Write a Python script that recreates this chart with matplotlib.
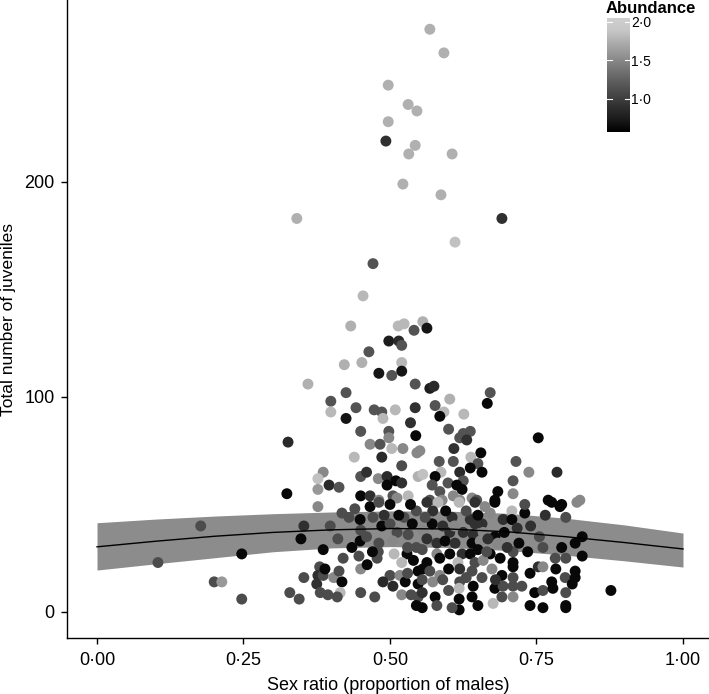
import matplotlib
matplotlib.use("Agg")
import matplotlib.pyplot as plt
import numpy as np
from matplotlib.colors import LinearSegmentedColormap, Normalize

plt.rcParams['font.family'] = ['Liberation Sans', 'DejaVu Sans']

# ---- data -------------------------------------------------------------
sex_ratio = [
    0.568, 0.592, 0.497, 0.531, 0.546, 0.497, 0.493, 0.543, 0.532, 0.606, 0.522, 0.587, 0.691, 0.611, 0.341,
    0.471, 0.454, 0.433, 0.514, 0.524, 0.556, 0.541, 0.563, 0.498, 0.515, 0.520, 0.464, 0.422, 0.452, 0.520,
    0.481, 0.503, 0.520, 0.360, 0.543, 0.568, 0.575, 0.602, 0.671, 0.666, 0.399, 0.425, 0.399, 0.442, 0.425,
    0.473, 0.486, 0.488, 0.509, 0.543, 0.577, 0.592, 0.585, 0.626,
    0.450, 0.498, 0.498, 0.544, 0.326, 0.466, 0.483, 0.503, 0.522, 0.546, 0.439, 0.486, 0.386, 0.377, 0.377,
    0.396, 0.413, 0.450, 0.480, 0.495, 0.495, 0.510, 0.520, 0.548, 0.324, 0.450, 0.466, 0.481, 0.505, 0.512,
    0.531, 0.377,
    0.625, 0.637, 0.619, 0.631, 0.753, 0.609, 0.551, 0.655, 0.638, 0.584, 0.608, 0.650, 0.637, 0.619, 0.657,
    0.715, 0.737, 0.556, 0.587, 0.577, 0.625, 0.599, 0.572, 0.614, 0.710, 0.585, 0.608, 0.623, 0.684, 0.640,
    0.648, 0.679, 0.568, 0.589, 0.619, 0.770,
    0.785, 0.776, 0.793, 0.824, 0.819,
    0.177, 0.353, 0.348, 0.104, 0.247, 0.200, 0.213, 0.247, 0.329, 0.345, 0.353, 0.380, 0.377, 0.375,
    0.398, 0.411, 0.386, 0.418, 0.440, 0.449, 0.450, 0.449, 0.447, 0.450, 0.461, 0.466, 0.471, 0.481, 0.486,
    0.500, 0.500, 0.512, 0.481, 0.480, 0.478, 0.507, 0.529, 0.531, 0.520, 0.500, 0.517, 0.526, 0.488, 0.505,
    0.520, 0.536, 0.548, 0.548, 0.548, 0.474, 0.450, 0.420, 0.386, 0.389, 0.404, 0.413, 0.418, 0.415, 0.394,
    0.410, 0.381,
    0.524, 0.538, 0.545, 0.530, 0.540, 0.545, 0.535,
    0.563, 0.582, 0.618, 0.645, 0.662, 0.679, 0.708, 0.730,
    0.573, 0.606, 0.637, 0.645, 0.657, 0.671, 0.693, 0.708, 0.717,
    0.572, 0.556, 0.590, 0.602, 0.625, 0.642, 0.659, 0.679, 0.695,
    0.563, 0.580, 0.594, 0.611, 0.640, 0.654, 0.667, 0.684, 0.761,
    0.555, 0.580, 0.585, 0.602, 0.623, 0.637, 0.650, 0.671, 0.688, 0.710, 0.710,
    0.563, 0.616, 0.645, 0.659,
    0.556, 0.568, 0.585, 0.619, 0.640, 0.657, 0.674, 0.691, 0.710, 0.710, 0.739, 0.753, 0.761,
    0.555, 0.573, 0.590, 0.619, 0.618, 0.642, 0.679, 0.693, 0.710, 0.747, 0.761,
    0.555, 0.577, 0.618, 0.640, 0.691, 0.710, 0.676, 0.618, 0.606, 0.739, 0.761, 0.555,
    0.790, 0.800, 0.828, 0.816, 0.793, 0.782, 0.800, 0.828, 0.783, 0.816, 0.799, 0.816, 0.776, 0.811, 0.778,
    0.800, 0.877, 0.800, 0.800,
    0.740, 0.755, 0.735, 0.765,
    0.430, 0.435, 0.460, 0.470, 0.490, 0.505, 0.515, 0.530, 0.545, 0.560, 0.595, 0.610, 0.630, 0.650, 0.600,
    0.630, 0.665, 0.700, 0.720, 0.725, 0.680, 0.600, 0.580, 0.650, 0.710, 0.730, 0.520, 0.460, 0.600, 0.535,
]
juveniles = [
    271, 260, 245, 236, 233, 228, 219, 217, 213, 213, 199, 194, 183, 172, 183,
    162, 147, 133, 133, 134, 135, 131, 132, 126, 126, 124, 121, 115, 116, 116,
    111, 110, 112, 106, 106, 104, 105, 99, 102, 97, 98, 102, 93, 95, 90,
    94, 93, 90, 94, 95, 96, 93, 91, 92,
    84, 84, 81, 82, 79, 78, 78, 76, 76, 74, 72, 72, 65, 62, 57,
    59, 58, 63, 62, 63, 59, 61, 60, 63, 55, 54, 54, 52, 54, 53,
    54, 49,
    83, 84, 81, 80, 81, 76, 75, 74, 72, 70, 70, 69, 67, 65, 65,
    70, 65, 64, 65, 63, 61, 60, 59, 59, 61, 56, 54, 57, 56, 53,
    52, 52, 52, 52, 52, 52,
    65, 51, 50, 52, 51,
    40, 40, 34, 23, 27, 14, 14, 6, 9, 6, 16, 21, 17, 13,
    40, 34, 29, 46, 48, 43, 38, 33, 26, 20, 22, 49, 44, 51, 40,
    50, 41, 37, 32, 28, 25, 27, 27, 36, 23, 17, 17, 14, 14, 12,
    8, 8, 7, 13, 19, 7, 9, 25, 17, 20, 16, 19, 14, 9, 8,
    7, 9,
    44, 41, 47, 30, 24, 30, 50,
    51, 51, 51, 51, 49, 51, 47, 46,
    47, 44, 43, 41, 41, 46, 43, 43, 39,
    41, 38, 40, 37, 37, 36, 37, 35, 37,
    34, 32, 33, 32, 32, 33, 34, 32, 30,
    29, 27, 25, 27, 27, 27, 29, 27, 25, 28, 23,
    23, 23, 23, 24,
    20, 19, 17, 20, 19, 16, 20, 17, 21, 16, 18, 21, 21,
    15, 14, 15, 14, 11, 12, 11, 12, 12, 9, 10,
    9, 7, 6, 7, 7, 7, 4, 1, 2, 3, 2, 2,
    49, 44, 35, 32, 30, 25, 25, 26, 20, 19, 16, 16, 14, 13, 11,
    9, 10, 3, 2,
    40, 35, 28, 45,
    44, 30, 35, 28, 45, 33, 45, 18, 3, 44, 47, 40, 47, 45, 20,
    16, 28, 30, 32, 12, 15, 10, 3, 3, 55, 50, 68, 65, 85, 88,
]
abundance = [
    1.75, 1.75, 1.75, 1.75, 1.75, 1.75, 0.90, 1.75, 1.75, 1.75, 1.75, 1.75, 0.90, 1.85, 1.75,
    1.15, 1.80, 1.75, 1.80, 1.80, 1.75, 1.15, 0.70, 0.75, 0.85, 1.15, 1.15, 1.75, 1.75, 1.80,
    0.70, 1.15, 0.70, 1.75, 1.15, 0.75, 0.85, 1.75, 1.15, 0.62, 1.15, 1.15, 1.80, 1.15, 0.70,
    1.15, 1.15, 1.80, 1.80, 0.90, 1.15, 1.80, 0.62, 1.80,
    1.15, 1.15, 1.50, 0.62, 0.85, 1.50, 1.15, 1.80, 1.50, 1.50, 1.80, 0.85, 1.50, 1.85, 1.60,
    0.85, 1.15, 1.15, 1.50, 0.85, 0.62, 0.62, 0.90, 1.75, 0.62, 0.62, 0.90, 1.50, 1.15, 1.50,
    1.80, 1.50,
    1.15, 1.15, 1.15, 0.90, 0.62, 0.90, 1.50, 0.62, 1.80, 1.15, 1.15, 1.15, 0.62, 0.85, 0.62,
    1.15, 1.50, 1.85, 1.80, 0.62, 1.15, 1.15, 1.15, 0.62, 1.15, 1.15, 1.50, 0.62, 0.62, 1.50,
    1.15, 0.62, 1.15, 1.50, 1.50, 0.62,
    0.85, 0.62, 0.62, 1.50, 1.50,
    1.10, 0.90, 0.62, 1.10, 0.62, 1.10, 1.60, 1.10, 1.10, 1.10, 1.10, 1.10, 0.90, 0.90,
    1.10, 1.10, 0.62, 1.10, 1.10, 0.62, 1.10, 0.62, 1.10, 1.50, 0.62, 0.62, 1.10, 1.10, 0.62,
    0.62, 1.10, 1.10, 1.10, 1.10, 1.10, 1.80, 0.62, 1.10, 1.80, 1.10, 1.50, 0.62, 0.85, 0.85,
    1.50, 1.10, 1.10, 0.62, 0.62, 1.10, 1.10, 1.10, 1.10, 0.62, 1.50, 1.10, 0.62, 1.80, 1.10,
    1.10, 1.10,
    1.10, 0.62, 1.10, 1.10, 0.62, 1.10, 0.62,
    0.90, 1.80, 1.80, 0.90, 1.50, 0.62, 1.80, 0.62,
    0.90, 0.90, 0.90, 0.90, 0.90, 1.50, 0.90, 0.62, 0.90,
    0.62, 1.50, 0.90, 0.90, 0.90, 0.90, 1.50, 0.62, 0.62,
    0.90, 0.90, 0.62, 0.90, 0.62, 1.50, 0.90, 1.50, 1.10,
    1.10, 1.50, 0.62, 0.62, 0.90, 0.62, 0.62, 0.62, 0.62, 1.10, 0.62,
    0.62, 1.80, 1.10, 1.50,
    0.62, 1.10, 1.50, 0.90, 1.10, 1.10, 1.50, 0.62, 0.62, 1.10, 0.62, 0.90, 1.50,
    1.10, 1.50, 1.10, 1.10, 1.80, 0.62, 0.62, 1.10, 1.10, 0.62, 1.10,
    0.90, 0.62, 0.62, 0.62, 1.10, 1.50, 1.80, 0.62, 1.10, 0.62, 0.62, 0.62,
    0.62, 1.10, 0.62, 0.62, 0.62, 1.10, 1.10, 0.62, 0.62, 0.62, 1.10, 0.62, 0.62, 0.62, 0.62,
    1.10, 0.62, 0.62, 0.62,
    0.90, 1.10, 0.62, 0.90,
    1.10, 0.62, 1.10, 0.62, 0.90, 1.50, 0.62, 1.10, 0.62, 1.10, 0.62, 1.50, 1.10, 0.62, 0.62,
    1.10, 1.10, 0.90, 0.62, 1.10, 0.90, 1.10, 1.10, 0.62, 1.50, 1.10, 1.10, 0.90, 1.15, 0.90,
]

# fitted curve and its confidence band
fit_x = [0.0, 0.1, 0.2, 0.3, 0.4, 0.5, 0.6, 0.7, 0.8, 0.9, 1.0]
fit_y = [30.3, 32.9, 35.2, 37.0, 38.2, 38.8, 38.6, 37.3, 35.0, 32.3, 29.3]
fit_lo = [19.5, 22.4, 25.2, 28.0, 29.8, 30.4, 30.0, 28.6, 26.4, 23.8, 20.9]
fit_hi = [41.5, 43.2, 44.6, 45.7, 46.5, 47.0, 46.9, 45.9, 43.6, 40.5, 36.7]

x_ticks = [0.0, 0.25, 0.5, 0.75, 1.0]
x_tick_labels = ['0·00', '0·25', '0·50', '0·75', '1·00']
y_ticks = [0, 100, 200]
cbar_ticks = [1.0, 1.5, 2.0]
cbar_tick_labels = ['1·0', '1·5', '2·0']
abund_min, abund_max = 0.57, 2.05

# ---- figure -------------------------------------------------------------
W, H = 709, 694
fig = plt.figure(figsize=(W / 100, H / 100), dpi=100)
ax = fig.add_axes([67 / W, (H - 638) / H, (W - 67) / W, 638 / H])

cmap = LinearSegmentedColormap.from_list(
    'greys_lab',
    ['#000000', '#1b1b1b', '#303030', '#474747', '#5e5e5e', '#777777',
     '#919191', '#ababab', '#c6c6c6', '#d0d0d0'])
norm = Normalize(vmin=abund_min, vmax=abund_max)

ax.fill_between(fit_x, fit_lo, fit_hi, color='#8c8c8c', linewidth=0, zorder=1)
ax.scatter(sex_ratio, juveniles, c=abundance, cmap=cmap, norm=norm,
           s=62, linewidths=0, zorder=2)
ax.plot(fit_x, fit_y, color='black', linewidth=1.0, zorder=3)

ax.set_xlim(-0.0512, 1.0444)
ax.set_ylim(-12.1, 284.6)
ax.set_xticks(x_ticks)
ax.set_xticklabels(x_tick_labels)
ax.set_yticks(y_ticks)
for side in ['top', 'right']:
    ax.spines[side].set_visible(False)
for side in ['left', 'bottom']:
    ax.spines[side].set_linewidth(1.0)
ax.tick_params(axis='both', direction='out', length=4, width=1.0,
               labelsize=13, colors='black', pad=5)
ax.tick_params(axis='x', pad=6)
ax.set_xlabel('Sex ratio (proportion of males)', fontsize=13, labelpad=6)
ax.set_ylabel('Total number of juveniles', fontsize=12.5)
ax.yaxis.set_label_coords(-0.08, 0.5)

# colour bar legend
cax = fig.add_axes([607 / W, (H - 132) / H, 23 / W, 114 / H])
grad = np.linspace(abund_min, abund_max, 256).reshape(-1, 1)
cax.imshow(grad, aspect='auto', cmap=cmap, norm=norm, origin='lower',
           extent=[0, 1, abund_min, abund_max])
cax.set_xlim(0, 1)
cax.set_ylim(abund_min, abund_max)
for t in cbar_ticks:
    cax.plot([0, 0.2], [t, t], color='white', lw=0.8)
    cax.plot([0.8, 1.0], [t, t], color='white', lw=0.8)
cax.set_xticks([])
cax.yaxis.tick_right()
cax.set_yticks(cbar_ticks)
cax.set_yticklabels(cbar_tick_labels)
cax.tick_params(axis='y', length=0, labelsize=10, pad=1)
for s in cax.spines.values():
    s.set_visible(False)
fig.text(606 / W, (H - 1) / H, 'Abundance', fontsize=12, fontweight='bold',
         ha='left', va='top')

fig.savefig('out.png', dpi=100)
